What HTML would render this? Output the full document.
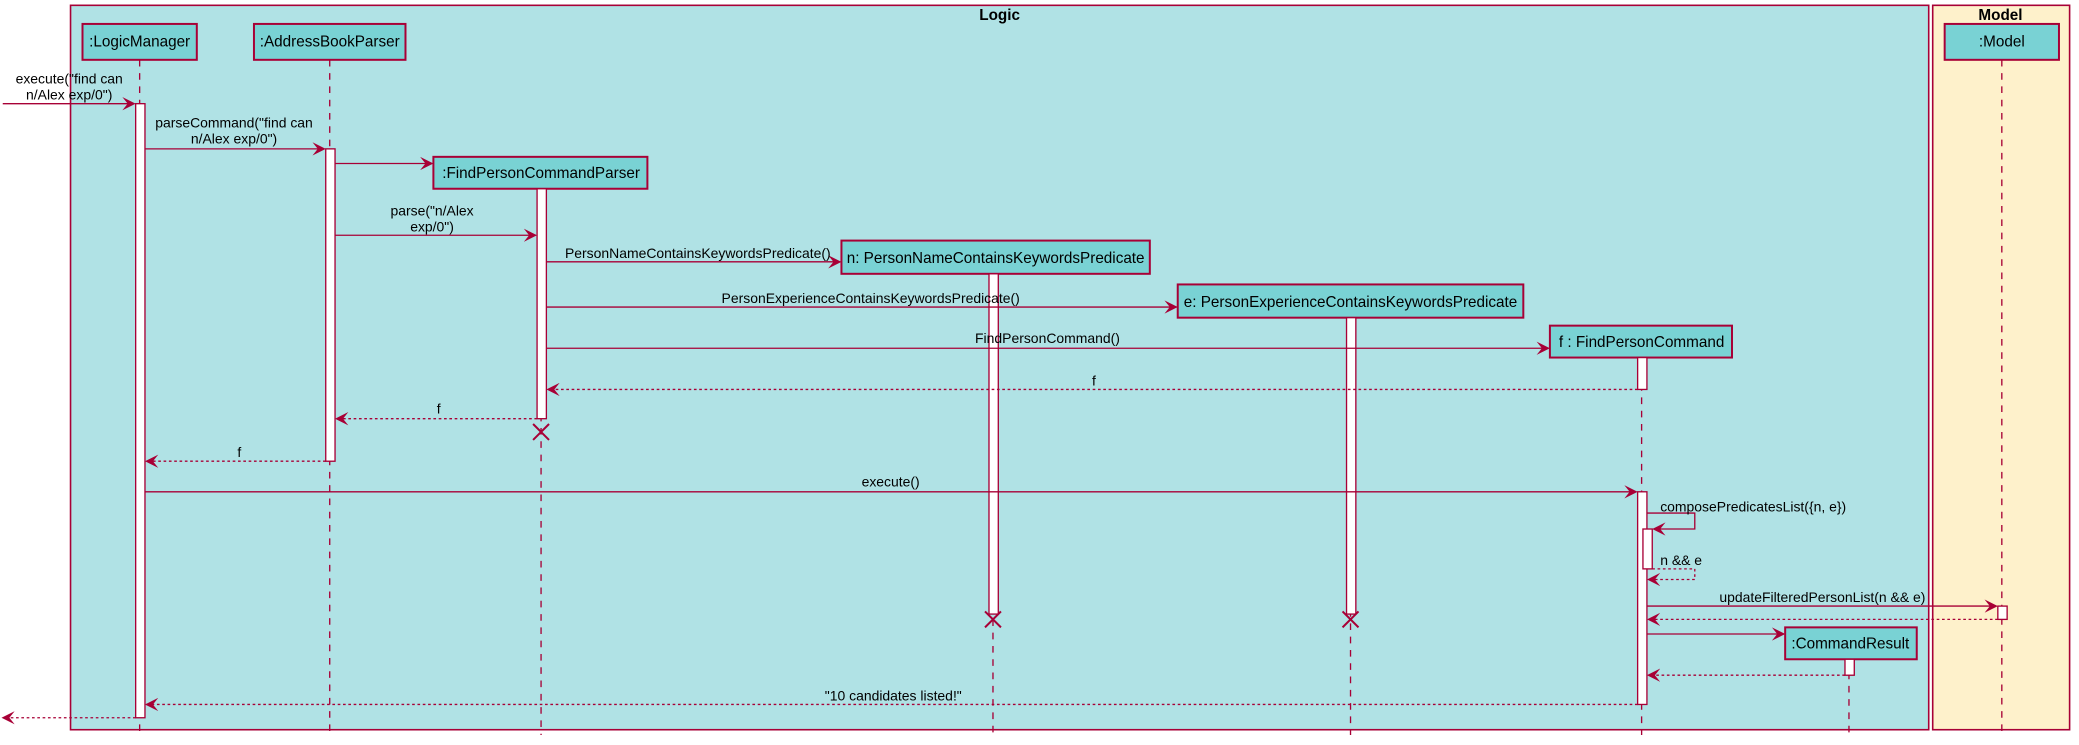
<!DOCTYPE html>
<html><head><meta charset="utf-8"><style>html,body{margin:0;padding:0;background:#fff;}svg{display:block}</style></head>
<body>
<svg width="2079" height="745" viewBox="0 0 1564 560.5" xmlns="http://www.w3.org/2000/svg" font-family="'Liberation Sans', sans-serif" font-size="10.5">
<defs>
<marker id="a" markerWidth="10" markerHeight="10" refX="9" refY="5" orient="auto" markerUnits="userSpaceOnUse"><path d="M0,0 L10,5 L0,10 L4,5 Z" fill="#A80036"/></marker>
</defs>
<rect x="53" y="4" width="1398" height="545" fill="#B0E2E5" stroke="#A80036" stroke-width="1.2"/>
<rect x="1454" y="4" width="103" height="545" fill="#FEF1CB" stroke="#A80036" stroke-width="1.2"/>
<text x="752" y="15" text-anchor="middle" font-weight="bold" font-size="11.5">Logic</text>
<text x="1505" y="15" text-anchor="middle" font-weight="bold" font-size="11.5">Model</text>
<g stroke="#A80036" stroke-width="1" stroke-dasharray="5,5" fill="none">
<line x1="105" y1="45" x2="105" y2="553"/><line x1="248" y1="45" x2="248" y2="553"/>
<line x1="407" y1="142" x2="407" y2="553"/><line x1="747" y1="206" x2="747" y2="553"/>
<line x1="1016" y1="239" x2="1016" y2="553"/><line x1="1235" y1="269" x2="1235" y2="553"/>
<line x1="1391" y1="496" x2="1391" y2="553"/><line x1="1506" y1="45" x2="1506" y2="553"/>
</g>
<g fill="#79D2D4" stroke="#A80036" stroke-width="1.5">
<rect x="62" y="18" width="86" height="27"/><rect x="191" y="18" width="114" height="27"/>
<rect x="326" y="118" width="161" height="24"/><rect x="633" y="181" width="232" height="25"/>
<rect x="886" y="214" width="260" height="25"/><rect x="1166" y="245" width="137" height="24"/>
<rect x="1343" y="472" width="99" height="24"/><rect x="1463" y="18" width="86" height="27"/>
</g>
<g text-anchor="middle" font-size="11.5">
<text x="105" y="35">:LogicManager</text><text x="248" y="35">:AddressBookParser</text>
<text x="407" y="134">:FindPersonCommandParser</text><text x="749" y="198">n: PersonNameContainsKeywordsPredicate</text>
<text x="1016" y="231">e: PersonExperienceContainsKeywordsPredicate</text><text x="1235" y="261">f : FindPersonCommand</text>
<text x="1392" y="488">:CommandResult</text><text x="1506" y="35">:Model</text>
</g>
<g fill="#fff" stroke="#A80036" stroke-width="1">
<rect x="102" y="78" width="7" height="462"/><rect x="245" y="112" width="7" height="235"/>
<rect x="404" y="142" width="7" height="173"/><rect x="744" y="206" width="7" height="256"/>
<rect x="1013" y="239" width="7" height="223"/><rect x="1232" y="269" width="7" height="24"/>
<rect x="1232" y="370" width="7" height="160"/><rect x="1236" y="398" width="7" height="30"/>
<rect x="1503" y="456" width="7" height="10"/><rect x="1388" y="496" width="7" height="12"/>
</g>
<g stroke="#A80036" stroke-width="1.5">
<path d="M401,319 l12,12 M413,319 l-12,12 M741,460 l12,12 M753,460 l-12,12 M1010,460 l12,12 M1022,460 l-12,12"/>
</g>
<g stroke="#A80036" stroke-width="1" fill="none" marker-end="url(#a)">
<line x1="2" y1="78" x2="101" y2="78"/>
<line x1="109" y1="112" x2="244" y2="112"/>
<line x1="252" y1="123" x2="325" y2="123"/>
<line x1="252" y1="177" x2="403" y2="177"/>
<line x1="411" y1="197" x2="632" y2="197"/>
<line x1="411" y1="231" x2="885" y2="231"/>
<line x1="411" y1="262" x2="1165" y2="262"/>
<line x1="109" y1="370" x2="1231" y2="370"/>
<polyline points="1239,386 1275,386 1275,398 1244,398"/>
<line x1="1239" y1="456" x2="1502" y2="456"/>
<line x1="1239" y1="477" x2="1342" y2="477"/>
</g>
<g stroke="#A80036" stroke-width="1" fill="none" stroke-dasharray="2,2" marker-end="url(#a)">
<line x1="1232" y1="293" x2="412" y2="293"/>
<line x1="404" y1="315" x2="253" y2="315"/>
<line x1="245" y1="347" x2="110" y2="347"/>
<polyline points="1243,428 1275,428 1275,436 1240,436"/>
<line x1="1503" y1="466" x2="1240" y2="466"/>
<line x1="1388" y1="508" x2="1240" y2="508"/>
<line x1="1232" y1="530" x2="110" y2="530"/>
<line x1="102" y1="540" x2="2" y2="540"/>
</g>
<g font-size="10.5">
<text x="52" y="63" text-anchor="middle">execute("find can</text><text x="52" y="75" text-anchor="middle">n/Alex exp/0")</text>
<text x="176" y="96" text-anchor="middle">parseCommand("find can</text><text x="176" y="108" text-anchor="middle">n/Alex exp/0")</text>
<text x="325" y="162" text-anchor="middle">parse("n/Alex</text><text x="325" y="174" text-anchor="middle">exp/0")</text>
<text x="425" y="194">PersonNameContainsKeywordsPredicate()</text>
<text x="655" y="228" text-anchor="middle">PersonExperienceContainsKeywordsPredicate()</text>
<text x="788" y="258" text-anchor="middle">FindPersonCommand()</text>
<text x="823" y="290" text-anchor="middle">f</text>
<text x="330" y="311" text-anchor="middle">f</text>
<text x="180" y="344" text-anchor="middle">f</text>
<text x="670" y="366" text-anchor="middle">execute()</text>
<text x="1249" y="385">composePredicatesList({n, e})</text>
<text x="1249" y="425">n &amp;&amp; e</text>
<text x="1371" y="453" text-anchor="middle">updateFilteredPersonList(n &amp;&amp; e)</text>
<text x="672" y="527" text-anchor="middle">"10 candidates listed!"</text>
</g>
</svg>
</body></html>
